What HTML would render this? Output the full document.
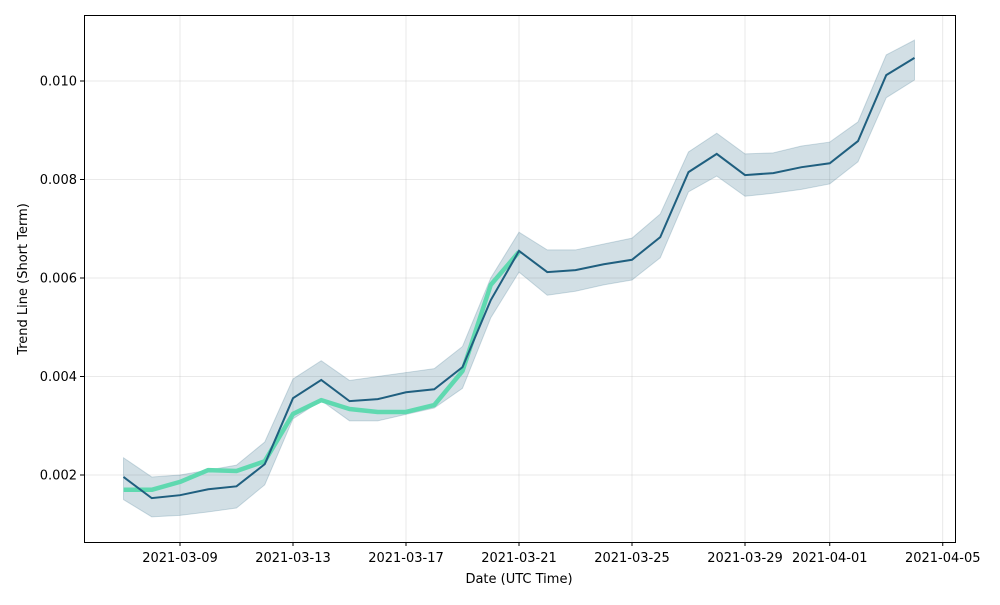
<!DOCTYPE html>
<html><head><meta charset="utf-8"><style>
body{margin:0;background:#fff;font-family:"Liberation Sans","DejaVu Sans",sans-serif}
svg text{font-family:"DejaVu Sans","Liberation Sans",sans-serif;font-size:13px;fill:#000}
</style></head><body>
<svg id="chart" width="1000" height="600" xmlns="http://www.w3.org/2000/svg">
<g id="grid"></g>
<g id="band"></g>
<g id="lines"></g>
<rect x="84.5" y="15.5" width="871" height="527" fill="none" stroke="#000" stroke-width="1"/>
<g id="xt"></g>
<g id="yt"></g>
<text x="519" y="583" text-anchor="middle">Date (UTC Time)</text>
<text transform="translate(27,279) rotate(-90)" text-anchor="middle">Trend Line (Short Term)</text>
</svg>
<script>
const trend=[0.00196,0.00153,0.00159,0.00171,0.00177,0.00222,0.00356,0.00393,0.00350,0.00354,0.00368,0.00374,0.00419,0.00555,0.00655,0.00612,0.00616,0.00628,0.00637,0.00683,0.00815,0.00852,0.00809,0.00813,0.00825,0.00833,0.00878,0.01012,0.01047];
const upper=[0.00235,0.00196,0.002,0.0021,0.0022,0.00267,0.00395,0.00432,0.00392,0.004,0.00408,0.00416,0.00461,0.006,0.00693,0.00657,0.00657,0.00669,0.00681,0.0073,0.00856,0.00894,0.00852,0.00854,0.00868,0.00876,0.00917,0.01053,0.01083];
const lower=[0.0015,0.00115,0.00118,0.00125,0.00133,0.0018,0.00314,0.00351,0.0031,0.0031,0.00323,0.00336,0.00376,0.00519,0.00612,0.00565,0.00573,0.00586,0.00596,0.00641,0.00775,0.00807,0.00766,0.00772,0.0078,0.00791,0.00836,0.00966,0.01002];
const price=[0.0017,0.0017,0.00186,0.0021,0.00208,0.00228,0.00324,0.00352,0.00334,0.00328,0.00328,0.00342,0.00411,0.00586,0.00653];
const xTickLabels=["2021-03-09","2021-03-13","2021-03-17","2021-03-21","2021-03-25","2021-03-29","2021-04-01","2021-04-05"];
const xTickDays=[2,6,10,14,18,22,25,29];
const yTicks=[0.002,0.004,0.006,0.008,0.010];
const X=d=>123.5+d*28.25;
const Y=v=>475-(v-0.002)/0.002*98.5;
const NS="http://www.w3.org/2000/svg";
function mk(t,a,p){const e=document.createElementNS(NS,t);for(const k in a)e.setAttribute(k,a[k]);p.appendChild(e);return e;}
const grid=document.getElementById('grid'),xt=document.getElementById('xt'),yt=document.getElementById('yt');
xTickDays.forEach((d,i)=>{const x=X(d);
const g=mk('line',{x1:x,x2:x,y1:15,y2:542,stroke:'#b0b0b0','stroke-opacity':0.35,'stroke-width':0.8},grid);

const t=mk('line',{x1:x,x2:x,y1:542,y2:546,stroke:'#000'},xt);

const l=mk('text',{x:x,y:562,'text-anchor':'middle'},xt);l.textContent=xTickLabels[i];
});
yTicks.forEach(v=>{const y=Y(v);
const g=mk('line',{x1:84,x2:955,y1:y,y2:y,stroke:'#b0b0b0','stroke-opacity':0.35,'stroke-width':0.8},grid);

const t=mk('line',{x1:80,x2:84,y1:y,y2:y,stroke:'#000'},yt);

const l=mk('text',{x:77,y:y+4.5,'text-anchor':'end'},yt);l.textContent=v.toFixed(3);
});
let d='M'+upper.map((v,i)=>X(i)+','+Y(v)).join('L')+'L'+lower.map((v,i)=>[i,v]).reverse().map(([i,v])=>X(i)+','+Y(v)).join('L')+'Z';
const b=mk('path',{d:d,fill:'#1f5f7f','fill-opacity':0.2,stroke:'#1f5f7f','stroke-opacity':0.2},document.getElementById('band'));

const L=document.getElementById('lines');
const p=mk('polyline',{points:price.map((v,i)=>X(i)+','+Y(v)).join(' '),fill:'none',stroke:'#5fd9b0','stroke-width':4.5,'stroke-linejoin':'round'},L);

const t=mk('polyline',{points:trend.map((v,i)=>X(i)+','+Y(v)).join(' '),fill:'none',stroke:'#1f5f7f','stroke-width':2},L);

</script>
</body></html>
